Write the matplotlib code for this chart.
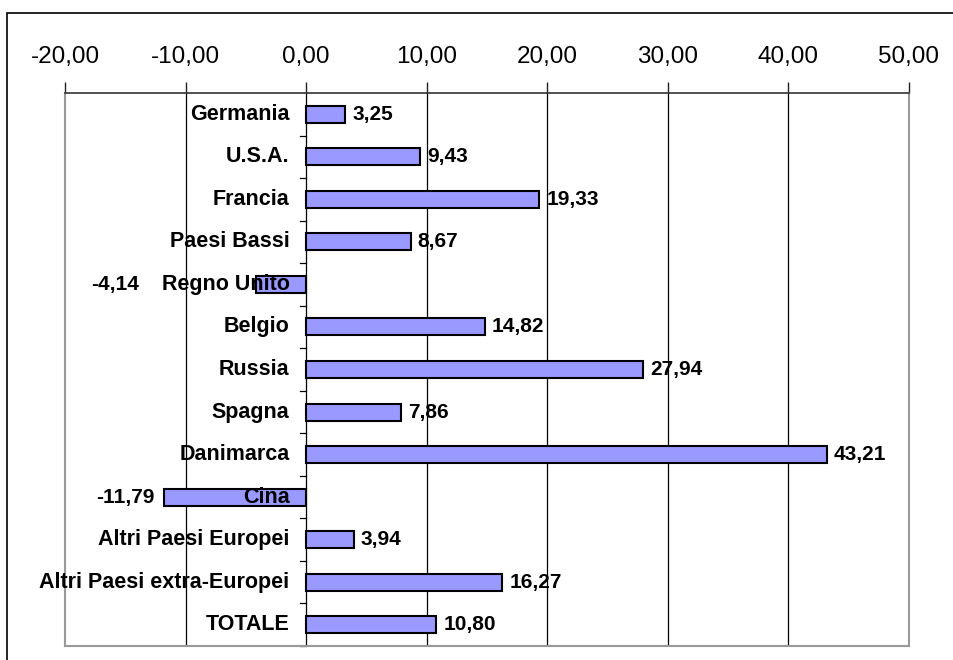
import matplotlib.pyplot as plt
import numpy as np
from matplotlib.patches import Rectangle

plt.rcParams['font.family'] = ['Liberation Sans', 'DejaVu Sans']

paesi = ['Germania', 'U.S.A.', 'Francia', 'Paesi Bassi', 'Regno Unito', 'Belgio',
         'Russia', 'Spagna', 'Danimarca', 'Cina', 'Altri Paesi Europei',
         'Altri Paesi extra-Europei', 'TOTALE']
valori = [3.25, 9.43, 19.33, 8.67, -4.14, 14.82, 27.94, 7.86, 43.21, -11.79, 3.94, 16.27, 10.80]
tick_x = [-20, -10, 0, 10, 20, 30, 40, 50]

def fmt(v):
    return ('%.2f' % v).replace('.', ',')

fig = plt.figure(figsize=(9.54, 6.6), dpi=100)
ax = fig.add_axes([65/954, 1-646/660, (909-65)/954, (646-93)/660])

y = np.arange(len(paesi))
ax.barh(y, valori, height=0.4, color='#9999FF', edgecolor='black', linewidth=1.5, zorder=3)

ax.set_xlim(-20, 50)
ax.set_ylim(len(paesi)-0.5, -0.5)

# griglia verticale
for t in tick_x[1:-1]:
    ax.axvline(t, color='black', linewidth=0.9, zorder=1)

# asse in alto
ax.xaxis.tick_top()
ax.set_xticks(tick_x)
ax.set_xticklabels([fmt(t) for t in tick_x], fontsize=17.5)
ax.tick_params(axis='x', direction='out', length=8, width=1, color='#222222', pad=10)

# asse categorie su x=0
ax.set_yticks([])
for sp in ['left', 'right', 'bottom']:
    ax.spines[sp].set_color('#999999')
    ax.spines[sp].set_linewidth(1.5)
ax.spines['top'].set_color('#333333')
ax.spines['top'].set_linewidth(1.2)

for b in np.arange(0.5, len(paesi)-0.5, 1.0):
    ax.plot([-0.55, 0], [b, b], color='black', linewidth=0.9, zorder=2, clip_on=False)
ax.plot([-0.55, 0], [len(paesi)-0.5]*2, color='black', linewidth=0.9, zorder=2, clip_on=False)

for i, p in enumerate(paesi):
    ax.annotate(p, xy=(0, i), xytext=(-12, 0), textcoords='offset points',
                ha='right', va='center', fontsize=15.5, fontweight='bold', zorder=5)

for i, v in enumerate(valori):
    if v >= 0:
        ax.annotate(fmt(v), xy=(v, i), xytext=(5, 0), textcoords='offset points',
                    ha='left', va='center', fontsize=15, fontweight='bold', zorder=5)
    elif paesi[i] == 'Regno Unito':
        ax.annotate(fmt(v), xy=(-13.9, i), ha='right', va='center',
                    fontsize=15, fontweight='bold', zorder=5)
    else:
        ax.annotate(fmt(v), xy=(v, i), xytext=(-7, 0), textcoords='offset points',
                    ha='right', va='center', fontsize=15, fontweight='bold', zorder=5)

# cornice esterna
fig.add_artist(Rectangle((7/954, -0.1), 1.2, 1-13/660+0.1, transform=fig.transFigure,
                         fill=False, edgecolor='black', linewidth=1.2))

fig.savefig('out.png', dpi=100)
